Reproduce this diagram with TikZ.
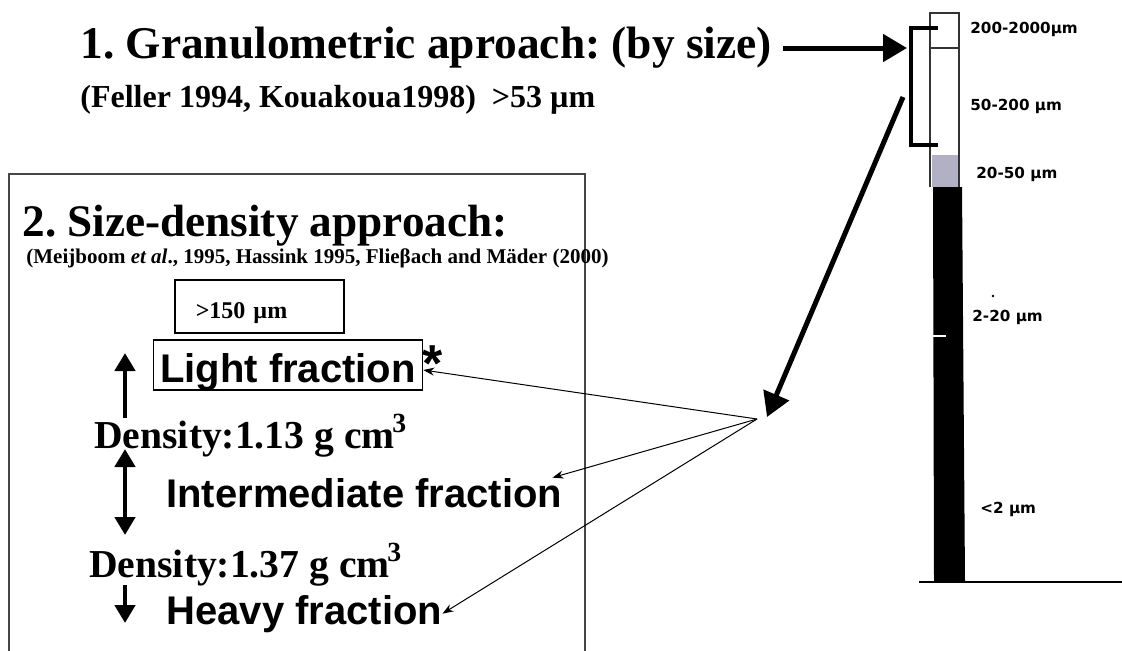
\documentclass[tikz,border=0pt]{standalone}
\usepackage{fontspec}
\setmainfont{Liberation Serif}
\newfontfamily\arialfont{Liberation Sans}
\newfontfamily\sievefont{DejaVu Sans}[BoldFont={DejaVu Sans Bold}]
\usetikzlibrary{arrows.meta, positioning}
\definecolor{siltgrey}{RGB}{178,176,196}
\definecolor{framegrey}{RGB}{70,70,70}
\frenchspacing

\begin{document}
\begin{tikzpicture}[x=0.5pt, y=-0.5pt,
  txt/.style={anchor=base west, inner sep=0pt},
  headline/.style={txt, font=\fontsize{22.7}{26}\selectfont\bfseries},
  citeline/.style={txt, font=\fontsize{16}{19}\selectfont\bfseries},
  density/.style={txt, font=\fontsize{19.8}{23}\selectfont\bfseries},
  fraction/.style={txt, font=\arialfont\fontsize{20}{24}\selectfont\bfseries},
  fracbox/.style={draw, line width=0.75pt, inner ysep=0pt, inner xsep=0pt},
  sievelab/.style={txt, font=\sievefont\fontsize{7.6}{9}\selectfont\bfseries},
  bigarrow/.style={line width=2.5pt, -{Triangle[length=12pt, width=13.5pt]}},
  thinarrow/.style={line width=0.5pt, -{Stealth[length=5.5pt, width=4pt]}},
  vbar/.style={line width=2.25pt, -{Triangle[length=9pt, width=10pt]}},
  colline/.style={draw=black!80, line width=1pt},
]
\useasboundingbox (0,0) rectangle (1122,650);

% Granulometric approach
\node[headline] (gran) at (80,58) {1. Granulometric aproach: (by size)};
\node[citeline] (feller) at (80,107) {(Feller 1994, Kouakoua1998)~~>53 µm};

% Size-density frame
\draw[draw=framegrey, line width=0.75pt] (9,652) -- (9,174) -- (585,174) -- (585,652);
\node[headline, font=\fontsize{22.6}{26}\selectfont\bfseries] (sizedens) at (22,236) {2. Size-density approach:};
\node[txt, font=\fontsize{10.5}{12}\selectfont\bfseries] (meij) at (26,263)
  {(Meijboom \textit{et al}., 1995, Hassink 1995, Flieβach and Mäder (2000)};

\node[fracbox, txt, font=\fontsize{12}{14}\selectfont\bfseries, align=left,
  text width=63.5pt, inner xsep=10.5pt, text height=19pt, text depth=7.5pt] (sieve) at (174,318) {>150 µm};
\node[fracbox, fraction, anchor=base, text height=21pt, text depth=4pt,
  minimum width=134.5pt] (light) at (288,382) {Light fraction};
\node[txt, anchor=north west, font=\arialfont\fontsize{26}{28}\selectfont\bfseries] (ast) at (422,345) {*};

\node[density] (dens1) at (94,448) {Density:1.13 g cm\kern-0.06em\textsuperscript{3}};
\node[fraction] (inter) at (166,507) {Intermediate fraction};
\node[density] (dens2) at (89,577) {Density:1.37 g cm\kern-0.06em\textsuperscript{3}};
\node[fraction] (heavy) at (166,624) {Heavy fraction};

% Density arrows
\draw[vbar] (125,418) -- (125,353);
\draw[vbar, {Triangle[length=9pt, width=10pt]}-{Triangle[length=9pt, width=10pt]}] (125,449) -- (125,535);
\draw[vbar] (125,585) -- (125,623);

% Sieve column
\draw[colline] (930,187) -- (930,13) -- (959,13) -- (959,187);
\draw[colline] (930,48) -- (959,48);
\fill[siltgrey] (932,155) rectangle (958,187);
\fill[black] (933,187) -- (962,187) -- (965,582) -- (934,582) -- cycle;
\draw[white, line width=0.8pt] (933,336) -- (946,336);
\draw[line width=1.2pt] (919,582) -- (1122,582);

\node[sievelab] (s1) at (970,33) {200-2000µm};
\node[sievelab] (s2) at (970,110) {50-200 µm};
\node[sievelab] (s3) at (976,178) {20-50 µm};
\node[sievelab] (s4) at (972,321) {2-20 µm};
\fill (993,296) circle (1.3);
\node[sievelab] (s5) at (980,513) {<2 µm};

% Bracket and arrows
\draw[line width=2pt] (938,28) -- (911,28) -- (911,145) -- (938,145);
\coordinate (brkin) at (907,48);
\coordinate (brkout) at (903,97);
\coordinate (hub) at (757,419);
\coordinate (bigtip) at (767,417);

\draw[bigarrow, shorten <=5.5pt] (gran.east |- brkin) -- (brkin);
\draw[bigarrow] (brkout) -- (bigtip);
\draw[thinarrow] (hub) -- ([yshift=-2.5pt]light.east);
\draw[thinarrow] (hub) -- ([xshift=-5pt]inter.north east);
\draw[thinarrow] (hub) -- (heavy.east);
\end{tikzpicture}
\end{document}
